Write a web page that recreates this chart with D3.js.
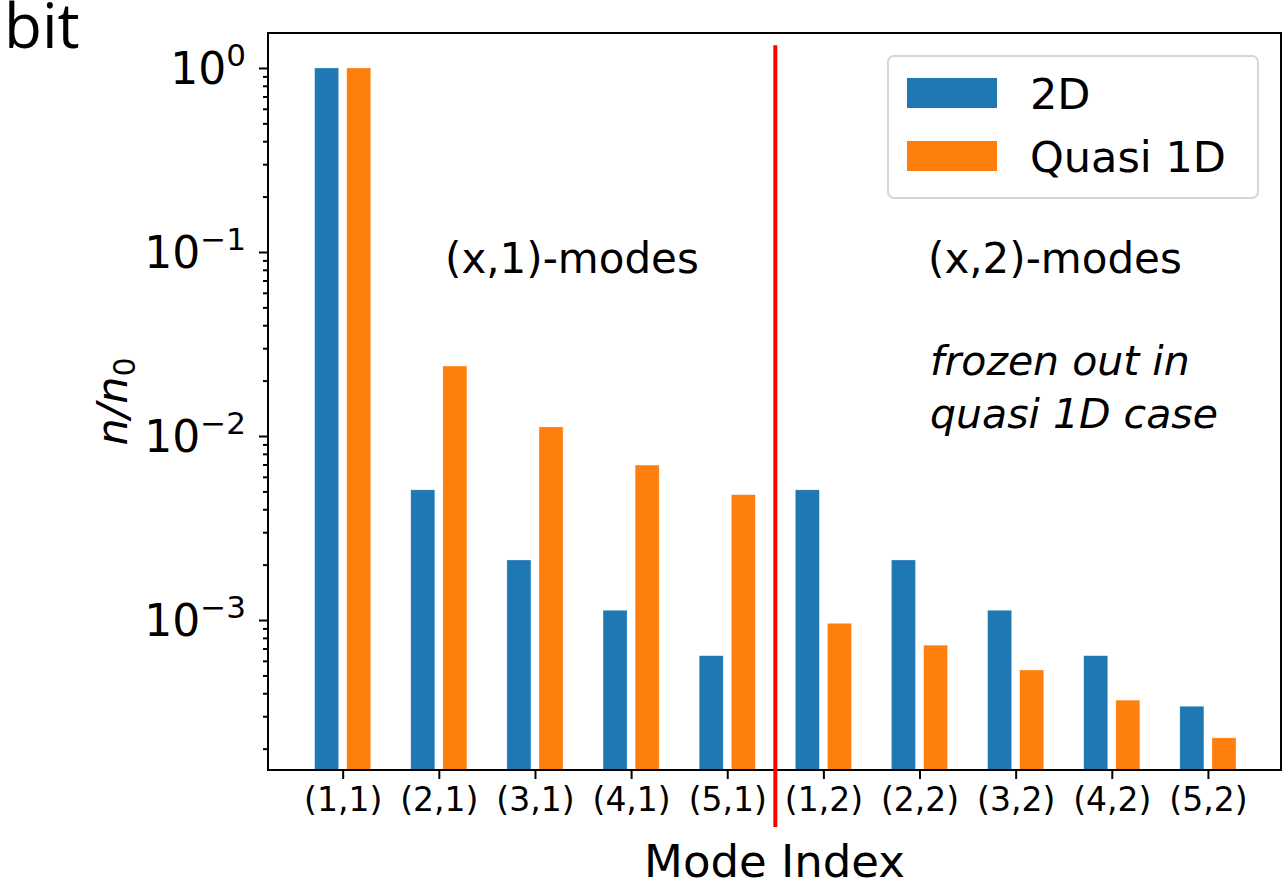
<!DOCTYPE html>
<html>
<head>
<meta charset="utf-8">
<script src="https://cdn.jsdelivr.net/npm/d3@7"></script>
<style>
  body { margin: 0; background: #fff; }
  svg text { font-family: "DejaVu Sans", sans-serif; fill: #000; }
  .axis path, .axis line { stroke: #000; stroke-width: 2; }
</style>
</head>
<body>
<div id="chart"></div>
<script>
const W = 1284;
const H = 885;
const MARGIN = { left: 268, right: 3, top: 33, bottom: 115 };

const categories = ["(1,1)", "(2,1)", "(3,1)", "(4,1)", "(5,1)", "(1,2)", "(2,2)", "(3,2)", "(4,2)", "(5,2)"];
const values2D = [1.0, 5.1e-3, 2.12e-3, 1.13e-3, 6.4e-4, 5.1e-3, 2.12e-3, 1.13e-3, 6.4e-4, 3.4e-4];
const valuesQuasi = [1.0, 2.4e-2, 1.12e-2, 6.95e-3, 4.8e-3, 9.6e-4, 7.3e-4, 5.35e-4, 3.67e-4, 2.29e-4];
const seriesNames = ["2D", "Quasi 1D"];
const majorExponents = [0, -1, -2, -3];
const dividerAt = 4.5;
const dividerSpan = [7.5e-5, 1.33];

const COLORS = { "2D": "#1f77b4", "Quasi 1D": "#ff7f0e" };
const BAR_W = 0.25;
const OFFSET = 0.167;

const svg = d3.select("#chart").append("svg").attr("width", W).attr("height", H);
svg.append("rect").attr("width", W).attr("height", H).attr("fill", "#fff");

const x = d3.scaleLinear().domain([-0.777, 9.76]).range([MARGIN.left, W - MARGIN.right]);
const y = d3.scaleLog().domain([10 ** -3.815, 10 ** 0.19]).range([H - MARGIN.bottom, MARGIN.top]);

// bars
const rows = categories.map((c, i) => ({ c, i, a: values2D[i], b: valuesQuasi[i] }));
const bars = svg.append("g");
bars.selectAll("rect.b2d")
  .data(rows)
  .join("rect")
  .attr("x", (d) => x(d.i - OFFSET - BAR_W / 2))
  .attr("width", x(BAR_W) - x(0))
  .attr("y", (d) => y(d.a))
  .attr("height", (d) => y.range()[0] - y(d.a))
  .attr("fill", COLORS["2D"])
  .attr("stroke", "#fff").attr("stroke-width", 0.6).attr("stroke-opacity", 0.5);
bars.selectAll("rect.bq")
  .data(rows)
  .join("rect")
  .attr("x", (d) => x(d.i + OFFSET - BAR_W / 2))
  .attr("width", x(BAR_W) - x(0))
  .attr("y", (d) => y(d.b))
  .attr("height", (d) => y.range()[0] - y(d.b))
  .attr("fill", COLORS["Quasi 1D"])
  .attr("stroke", "#fff").attr("stroke-width", 0.6).attr("stroke-opacity", 0.5);

// frame
svg.append("rect")
  .attr("x", MARGIN.left).attr("y", MARGIN.top)
  .attr("width", W - MARGIN.right - MARGIN.left)
  .attr("height", H - MARGIN.bottom - MARGIN.top)
  .attr("fill", "none").attr("stroke", "#000").attr("stroke-width", 2);

// x axis
const xAxis = svg.append("g")
  .attr("class", "axis")
  .attr("transform", `translate(0,${H - MARGIN.bottom})`)
  .call(d3.axisBottom(x).tickValues(d3.range(categories.length)).tickSize(9).tickPadding(8).tickFormat((i) => categories[i]));
xAxis.select(".domain").remove();
xAxis.selectAll("text").style("font-size", "33px").attr("dy", "0.72em");

// y axis major + minor ticks
const minorTicks = [];
for (let e = -4; e <= 0; e++) {
  for (let k = 2; k <= 9; k++) {
    const v = k * 10 ** e;
    if (v >= y.domain()[0] && v <= y.domain()[1]) minorTicks.push(v);
  }
}
const yMinor = svg.append("g").attr("class", "axis").attr("transform", `translate(${MARGIN.left},0)`)
  .call(d3.axisLeft(y).tickValues(minorTicks).tickSize(5).tickFormat(""));
yMinor.select(".domain").remove();
yMinor.selectAll("line").attr("stroke-width", 1.6);
const yMajor = svg.append("g").attr("class", "axis").attr("transform", `translate(${MARGIN.left},0)`)
  .call(d3.axisLeft(y).tickValues(majorExponents.map((e) => 10 ** e)).tickSize(9).tickFormat(""));
yMajor.select(".domain").remove();

const yLabels = svg.append("g");
majorExponents.forEach((e) => {
  const t = yLabels.append("text")
    .attr("x", MARGIN.left - 22)
    .attr("y", y(10 ** e) + 16)
    .attr("text-anchor", "end")
    .style("font-size", "44px");
  t.append("tspan").text("10");
  t.append("tspan").attr("dy", -18).style("font-size", "31px").text(e === 0 ? "0" : "\u2212" + -e);
});

// divider
svg.append("line")
  .attr("x1", x(dividerAt)).attr("x2", x(dividerAt))
  .attr("y1", y(dividerSpan[1])).attr("y2", y(dividerSpan[0]))
  .attr("stroke", "#ff0000").attr("stroke-width", 4);

// annotations
svg.append("text").attr("x", 445).attr("y", 273).style("font-size", "42px").text("(x,1)-modes");
svg.append("text").attr("x", 928).attr("y", 273).style("font-size", "42px").text("(x,2)-modes");
svg.append("text").attr("x", 930).attr("y", 375).style("font-size", "41px").style("font-style", "italic").text("frozen out in");
svg.append("text").attr("x", 930).attr("y", 428).style("font-size", "41px").style("font-style", "italic").text("quasi 1D case");

// legend
const legend = svg.append("g").attr("transform", "translate(888,56)");
legend.append("rect").attr("width", 370).attr("height", 142).attr("rx", 6)
  .attr("fill", "#fff").attr("fill-opacity", 0.8).attr("stroke", "#d6d6d6").attr("stroke-width", 2);
legend.selectAll("g.item")
  .data(seriesNames)
  .join("g")
  .attr("transform", (_, i) => `translate(0,${22 + i * 63})`)
  .each(function (d) {
    const g = d3.select(this);
    g.append("rect").attr("x", 19).attr("width", 90).attr("height", 30).attr("fill", COLORS[d]);
    g.append("text").attr("x", 142).attr("y", 31).style("font-size", "43px").text(d);
  });

// axis titles
svg.append("text")
  .attr("x", (MARGIN.left + W - MARGIN.right) / 2)
  .attr("y", 877)
  .attr("text-anchor", "middle")
  .style("font-size", "45px")
  .text("Mode Index");

const yTitle = svg.append("text")
  .attr("transform", `translate(127,${(MARGIN.top + H - MARGIN.bottom) / 2}) rotate(-90)`)
  .attr("text-anchor", "middle")
  .style("font-size", "43px")
  .style("font-style", "italic");
yTitle.append("tspan").text("n/n");
yTitle.append("tspan").attr("dy", 8).style("font-size", "30px").style("font-style", "normal").text("0");

// cropped fragment at top-left
svg.append("text").attr("x", 4).attr("y", 48)
  .style("font-family", "'Open Sans', sans-serif").style("font-size", "62px").text("bit");
</script>
</body>
</html>
